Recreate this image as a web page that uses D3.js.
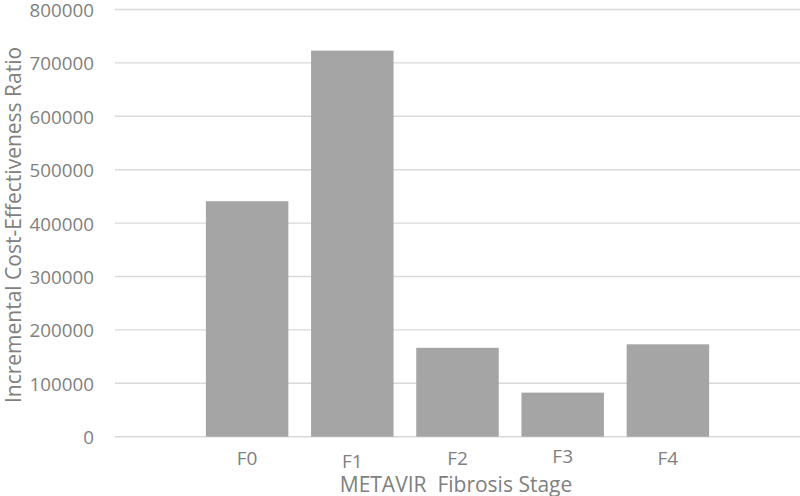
<!DOCTYPE html>
<html>
<head>
<meta charset="utf-8">
<script src="https://cdn.jsdelivr.net/npm/d3@7"></script>
<style>
  body { margin: 0; background: #fff; }
  text { font-family: "Open Sans", sans-serif; fill: #808080; }
</style>
</head>
<body>
<div id="chart"></div>
<script>
// values
var stages = ["F0", "F1", "F2", "F3", "F4"];
var icer = [441000, 723000, 166500, 82500, 173000];
var yTicks = [0, 100000, 200000, 300000, 400000, 500000, 600000, 700000, 800000];
var labelShift = [0, 3, 0, -1.5, 0]; // the stage labels sit a little uneven in the original

var width = 800, height = 496;
var margin = {top: 9.5, right: 0, bottom: 59.3, left: 115};

var svg = d3.select("#chart").append("svg")
    .attr("width", width)
    .attr("height", height);

var x = d3.scaleBand()
    .domain(stages)
    .range([margin.left, width - margin.right])
    .paddingInner(0.216)
    .paddingOuter(0.864);

var y = d3.scaleLinear()
    .domain([0, 800000])
    .range([height - margin.bottom, margin.top]);

// gridlines (0 line doubles as the axis)
svg.append("g").selectAll("line.grid")
    .data(yTicks)
  .enter().append("line")
    .attr("class", "grid")
    .attr("x1", margin.left)
    .attr("x2", width - margin.right)
    .attr("y1", function(d){ return y(d); })
    .attr("y2", function(d){ return y(d); })
    .style("stroke", "#d9d9d9")
    .style("stroke-width", 1.4);

// y tick labels
var yAxis = svg.append("g")
    .attr("transform", "translate(" + (margin.left - 21) + ",0)")
    .call(d3.axisLeft(y).tickValues(yTicks).tickSize(0).tickPadding(0).tickFormat(d3.format("d")));
yAxis.select(".domain").remove();
yAxis.selectAll("text")
    .style("font-size", "18.8px")
    .style("fill", "#808080")
    .attr("dy", "0.37em");

// bars
svg.append("g").selectAll("rect.bar")
    .data(icer)
  .enter().append("rect")
    .attr("class", "bar")
    .attr("x", function(d, i){ return x(stages[i]); })
    .attr("width", x.bandwidth())
    .attr("y", function(d){ return y(d); })
    .attr("height", function(d){ return y(0) - y(d); })
    .style("fill", "#a5a5a5");

// x tick labels
var xAxis = svg.append("g")
    .attr("transform", "translate(0," + y(0) + ")")
    .call(d3.axisBottom(x).tickSize(0).tickPadding(0));
xAxis.select(".domain").remove();
xAxis.selectAll("text")
    .style("font-size", "19px")
    .style("fill", "#808080")
    .attr("y", function(d, i){ return 28 + labelShift[i]; })
    .attr("dy", null);

// axis titles
svg.append("text")
    .attr("x", 456)
    .attr("y", 492)
    .attr("text-anchor", "middle")
    .style("font-size", "21px")
    .text("METAVIR\u00a0 Fibrosis Stage");

svg.append("text")
    .attr("transform", "translate(20.5,225) rotate(-90)")
    .attr("text-anchor", "middle")
    .style("font-size", "21px")
    .text("Incremental Cost-Effectiveness Ratio");
</script>
</body>
</html>
